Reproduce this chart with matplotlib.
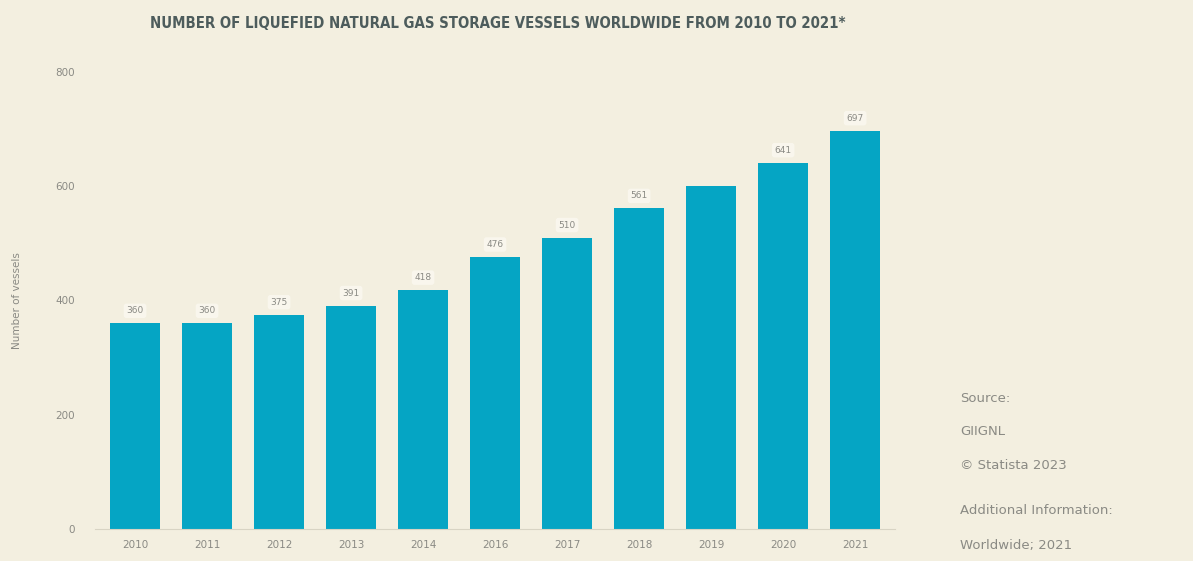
import matplotlib.pyplot as plt
import numpy as np

# LNG carriers in service per year
years = ["2010", "2011", "2012", "2013", "2014", "2016", "2017", "2018", "2019", "2020", "2021"]
vessels = [360, 360, 375, 391, 418, 476, 510, 561, 600, 641, 697]
show_label = [True, True, True, True, True, True, True, True, False, True, True]

y_ticks = [0, 200, 400, 600, 800]
source_lines = ["Source:", "GIIGNL", "© Statista 2023"]
info_lines = ["Additional Information:", "Worldwide; 2021"]

BG = "#f3efe0"
BAR = "#05a5c4"
GREY = "#8a8a84"

fig = plt.figure(figsize=(11.93, 5.61), dpi=100, facecolor=BG)
ax = fig.add_axes([0.080, 0.057, 0.670, 0.815], facecolor=BG)

x = np.arange(len(years))
bars = ax.bar(x, vessels, width=0.69, color=BAR, zorder=2)

for rect, val, show in zip(bars, vessels, show_label):
    if not show:
        continue
    ax.text(rect.get_x() + rect.get_width() / 2, val + 14, f"{val}",
            ha="center", va="bottom", fontsize=6.5, color=GREY,
            bbox=dict(boxstyle="round,pad=0.3", fc="#fbf9f1", ec="none", alpha=0.8))

ax.set_xlim(-0.55, len(years) - 0.45)
ax.set_ylim(0, 800)
ax.set_yticks(y_ticks)
ax.set_yticklabels([str(t) for t in y_ticks])
ax.set_xticks(x)
ax.set_xticklabels(years)
ax.tick_params(axis="both", length=0, labelsize=7.5, labelcolor=GREY)
ax.tick_params(axis="y", pad=15)
ax.tick_params(axis="x", pad=8)
ax.set_ylabel("Number of vessels", fontsize=7.5, color=GREY, labelpad=24)

for side in ["top", "right", "left"]:
    ax.spines[side].set_visible(False)
ax.spines["bottom"].set_color("#d8d4c4")

fig.text(0.417, 0.958,
         "NUMBER OF LIQUEFIED NATURAL GAS STORAGE VESSELS WORLDWIDE FROM 2010 TO 2021*",
         ha="center", va="center", fontsize=10.7, fontweight="bold", color="#4d5c5c",
         family=["Liberation Sans Narrow", "DejaVu Sans"], fontstretch="condensed")

# source block on the right
fx = 0.805
for i, line in enumerate(source_lines):
    fig.text(fx, 0.290 - i * 0.060, line, fontsize=9.5, color=GREY, va="center")
for i, line in enumerate(info_lines):
    fig.text(fx, 0.090 - i * 0.062, line, fontsize=9.5, color=GREY, va="center")

fig.savefig("out.png", dpi=100, facecolor=BG)
